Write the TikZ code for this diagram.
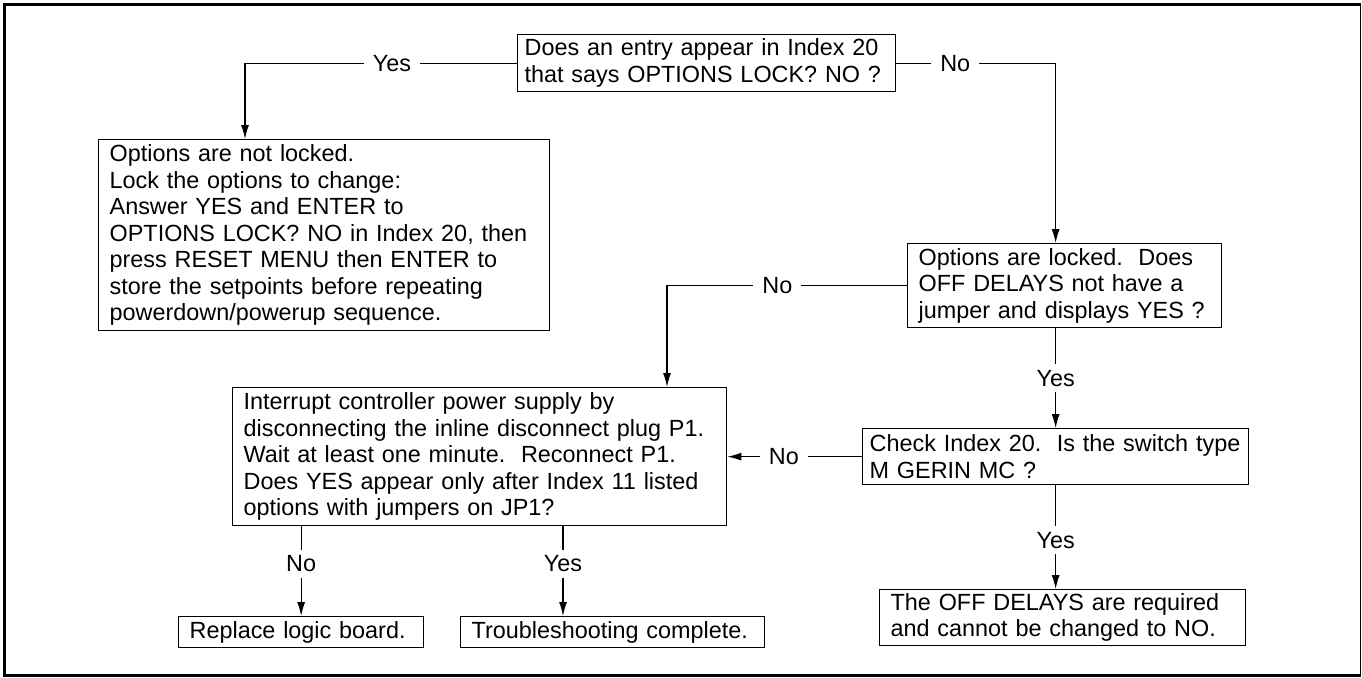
\documentclass[tikz,border=0pt]{standalone}
\usepackage{fontspec}
\setmainfont{Liberation Sans}
\usetikzlibrary{arrows.meta}
\newlength{\boxpad}
\setlength{\boxpad}{11pt}
\newcommand{\chartfont}{\fontsize{23.4}{26.5}\selectfont}

\tikzset{
    flowbox/.style={draw, line width=1.3pt, anchor=north west, align=left,
        inner xsep=\boxpad, inner ysep=0pt, font=\chartfont},
    flowline/.style={line width=1.2pt, -{Latex[length=14pt,width=8pt]}},
    answer/.style={fill=white, inner xsep=9pt, inner ysep=6pt, font=\chartfont},
}

\begin{document}
\begin{tikzpicture}[x=1pt, y=-1pt]
    \useasboundingbox (0,0) rectangle (1362,677);
    \draw[line width=1.5pt] (4,5) rectangle (1360.5,675);
    \draw[line width=3pt] (1360.5,675) -- (4,675) -- (4,5) -- (1360.5,5);

    \node[flowbox, inner xsep=7pt, text width=364pt, minimum height=57pt] (lockq) at (517,34)
        {Does an entry appear in Index 20\\that says OPTIONS LOCK? NO ?};
    \node[flowbox, text width=429pt, minimum height=191pt] (unlocked) at (98,139)
        {Options are not locked.\\Lock the options to change:\\Answer YES and ENTER to\\OPTIONS LOCK? NO in Index 20, then\\press RESET MENU then ENTER to\\store the setpoints before repeating\\powerdown/powerup sequence.};
    \node[flowbox, text width=292pt, minimum height=84pt] (locked) at (907,243)
        {Options are locked.~~Does\\OFF DELAYS not have a\\jumper and displays YES ?};
    \node[flowbox, text width=472pt, minimum height=138pt] (powercycle) at (232,387)
        {Interrupt controller power supply by\\disconnecting the inline disconnect plug P1.\\Wait at least one minute.~~Reconnect P1.\\Does YES appear only after Index 11 listed\\options with jumpers on JP1?};
    \node[flowbox, inner xsep=7pt, text width=372pt, minimum height=56pt] (switchq) at (862,428)
        {Check Index 20.~~Is the switch type\\M GERIN MC ?};
    \node[flowbox, text width=344pt, minimum height=56pt] (required) at (879,589)
        {The OFF DELAYS are required\\and cannot be changed to NO.};
    \node[flowbox, text width=223pt, minimum height=31pt] (replace) at (178,616)
        {Replace logic board.};
    \node[flowbox, text width=282pt, minimum height=31pt] (complete) at (460,616)
        {Troubleshooting complete.};

    \coordinate (unlockedin) at ([xshift=147pt]unlocked.north west);
    \coordinate (powerin) at ([xshift=435pt]powercycle.north west);
    \coordinate (completein) at ([xshift=103pt]complete.north west);

    \draw[flowline] (lockq.west) -| node[answer, pos=0.23] {Yes} (unlockedin);
    \draw[flowline] (lockq.east) -| node[answer, pos=0.185] {No} (switchq.north |- locked.north);
    \draw[flowline] (locked.west) -| node[answer, pos=0.27] {No} (powerin);
    \draw[flowline] (switchq.north |- locked.south) -- node[answer] {Yes} (switchq.north);
    \draw[flowline] (switchq.west) -- node[answer, pos=0.58] {No} (switchq.west -| powercycle.east);
    \draw[flowline] (switchq.south) -- node[answer, pos=0.53] {Yes} (switchq.south |- required.north);
    \draw[flowline] (replace.north |- powercycle.south) -- node[answer, pos=0.42] {No} (replace.north);
    \draw[flowline] (completein |- powercycle.south) -- node[answer, pos=0.42] {Yes} (completein);
\end{tikzpicture}
\end{document}
